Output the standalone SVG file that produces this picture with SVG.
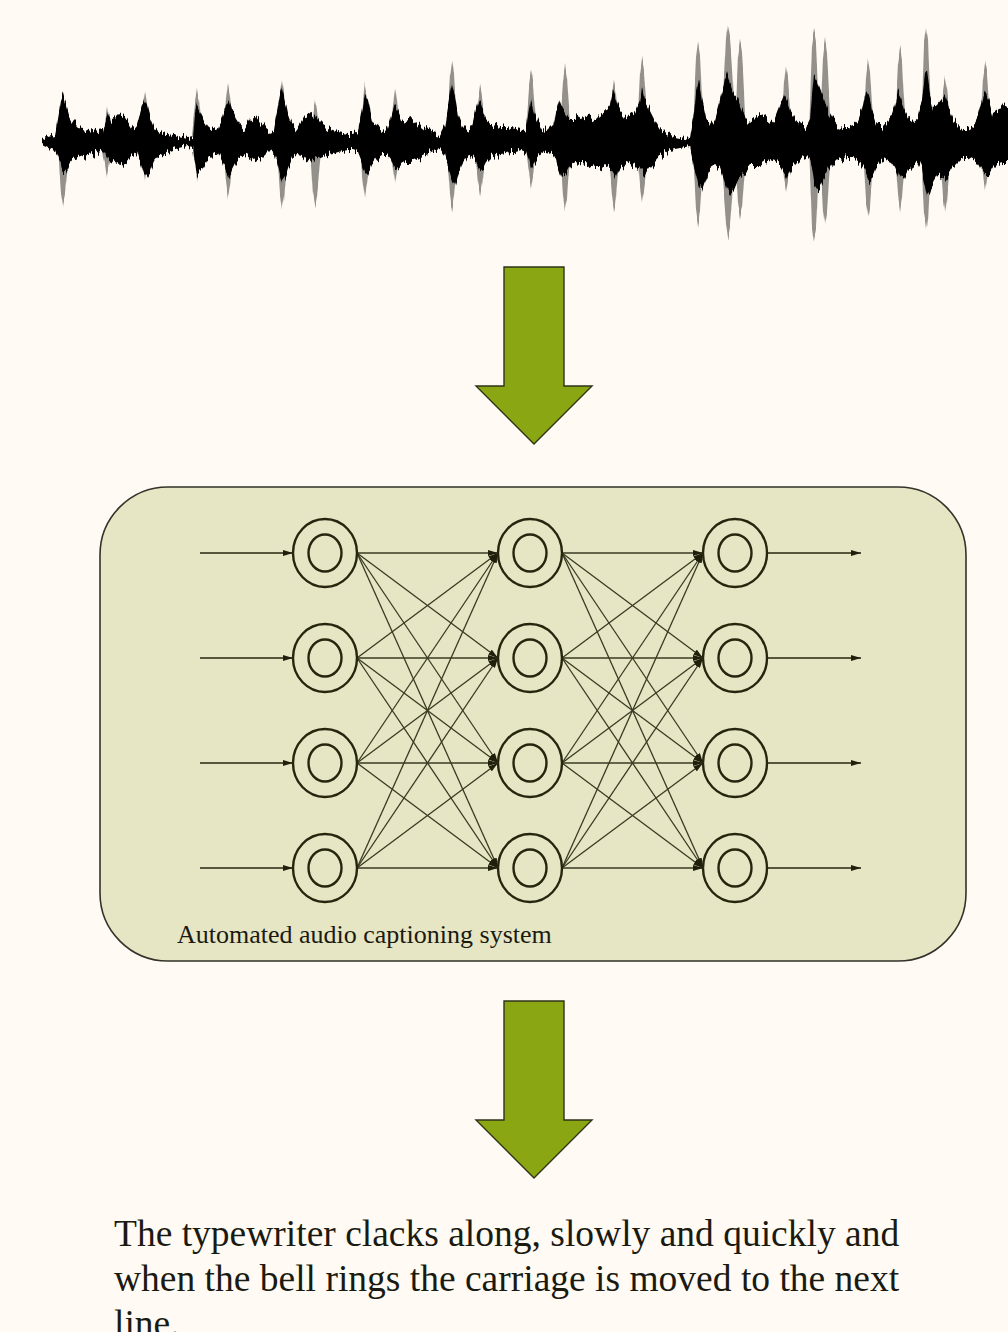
<svg xmlns="http://www.w3.org/2000/svg" width="1008" height="1332" viewBox="0 0 1008 1332">
  <defs>
    <style>
      .bg { fill: #fffaf3; }
      .panel { fill: #e6e6c5; stroke: #33332a; stroke-width: 1.6; }
      .flow { fill: #8aa612; stroke: #2e3318; stroke-width: 1.4; stroke-linejoin: miter; }
      .ring { fill: none; stroke: #26260f; stroke-width: 2.4; }
      .link { stroke: #3a3a22; stroke-width: 1.3; fill: none; marker-end: url(#tip); }
      .io { stroke: #26260f; stroke-width: 1.5; fill: none; marker-end: url(#tip); }
      .label { font-family: "Liberation Serif", "Times New Roman", serif; fill: #1a1a10; }
      .wave { fill: #000; }
      .spike { fill: #000; opacity: 0.42; }
    </style>
    <marker id="tip" viewBox="0 0 10 6" refX="10" refY="3" markerWidth="10" markerHeight="6" markerUnits="userSpaceOnUse" orient="auto">
      <path d="M0,0 L10,3 L0,6 Z" fill="#1f1f0c"/>
    </marker>
    <!-- streaky vertical jitter for the waveform edges -->
    <filter id="soft" x="-2%" y="-30%" width="104%" height="160%">
      <feTurbulence type="fractalNoise" baseFrequency="0.45 0.02" numOctaves="2" seed="7" result="noise"/>
      <feColorMatrix in="noise" type="matrix" values="0 0 0 0 0.5  0 1 0 0 0  0 0 0 0 0  0 0 0 0 1" result="shift"/>
      <feDisplacementMap in="SourceGraphic" in2="shift" scale="16" xChannelSelector="R" yChannelSelector="G" result="jag"/>
      <feGaussianBlur in="jag" stdDeviation="0.7"/>
    </filter>
  </defs>

  <rect class="bg" x="0" y="0" width="1008" height="1332"/>

  <!-- audio waveform -->
  <g id="waveform" filter="url(#soft)">
    <g class="spike">
      <path d="M58,135L61,108L63,93L65,105L69,135Z M58,150L61,192L63,207L65,195L69,150Z"/>
      <path d="M102,135L105,120L107,105L109,117L113,135Z M102,150L105,163L107,178L109,166L113,150Z"/>
      <path d="M140,135L143,105L145,90L147,102L151,135Z M140,150L143,167L145,182L147,170L151,150Z"/>
      <path d="M192,135L195,103L197,88L199,100L203,135Z M192,150L195,165L197,180L199,168L203,150Z"/>
      <path d="M223,135L226,99L228,84L230,96L234,135Z M223,150L226,182L228,197L230,185L234,150Z"/>
      <path d="M277,135L280,95L282,80L284,92L288,135Z M277,150L280,195L282,210L284,198L288,150Z"/>
      <path d="M310,135L313,115L315,100L317,112L321,135Z M310,150L313,193L315,208L317,196L321,150Z"/>
      <path d="M360,135L363,100L365,85L367,97L371,135Z M360,150L363,182L365,197L367,185L371,150Z"/>
      <path d="M390,135L393,103L395,88L397,100L401,135Z M390,150L393,170L395,185L397,173L401,150Z"/>
      <path d="M447,135L450,77L452,62L454,74L458,135Z M447,150L450,195L452,210L454,198L458,150Z"/>
      <path d="M475,135L478,100L480,85L482,97L486,135Z M475,150L478,181L480,196L482,184L486,150Z"/>
      <path d="M526,135L529,87L531,72L533,84L537,135Z M526,150L529,172L531,187L533,175L537,150Z"/>
      <path d="M560,135L563,80L565,65L567,77L571,135Z M560,150L563,195L565,210L567,198L571,150Z"/>
      <path d="M609,135L612,95L614,80L616,92L620,135Z M609,150L612,195L614,210L616,198L620,150Z"/>
      <path d="M637,135L640,72L642,57L644,69L648,135Z M637,150L640,188L642,203L644,191L648,150Z"/>
      <path d="M693,135L696,58L698,43L700,55L704,135Z M693,150L696,210L698,225L700,213L704,150Z"/>
      <path d="M721,135L726,38L728,23L730,35L736,135Z M721,150L726,223L728,238L730,226L736,150Z"/>
      <path d="M735,135L738,55L740,40L742,52L746,135Z M735,150L738,205L740,220L742,208L746,150Z"/>
      <path d="M781,135L784,82L786,67L788,79L792,135Z M781,150L784,177L786,192L788,180L792,150Z"/>
      <path d="M809,135L812,45L814,30L816,42L820,135Z M809,150L812,225L814,240L816,228L820,150Z"/>
      <path d="M820,135L823,55L825,40L827,52L831,135Z M820,150L823,210L825,225L827,213L831,150Z"/>
      <path d="M863,135L866,75L868,60L870,72L874,135Z M863,150L866,203L868,218L870,206L874,150Z"/>
      <path d="M895,135L898,62L900,47L902,59L906,135Z M895,150L898,195L900,210L902,198L906,150Z"/>
      <path d="M921,135L924,43L926,28L928,40L932,135Z M921,150L924,215L926,230L928,218L932,150Z"/>
      <path d="M940,135L943,90L945,75L947,87L951,135Z M940,150L943,198L945,213L947,201L951,150Z"/>
      <path d="M980,135L983,77L985,62L987,74L991,135Z M980,150L983,175L985,190L987,178L991,150Z"/>
    </g>
    <polygon class="wave" points="42,140 48,137 55,135 58,118 61,100 63,95 66,104 69,115 73,122 78,127 83,128 88,130 93,129 98,131 103,130 106,118 108,110 111,120 115,117 119,113 123,115 128,122 133,130 137,125 141,110 144,100 147,103 150,115 154,125 158,130 163,132 168,134 173,135 178,136 183,137 188,138 193,137 195,115 197,105 200,112 204,120 208,126 213,130 218,128 222,118 226,105 229,100 232,110 236,118 240,124 245,128 250,120 255,116 260,122 265,128 270,132 274,130 277,112 280,95 282,88 285,100 288,115 292,126 297,130 302,122 306,115 310,112 314,115 318,120 323,125 328,128 333,130 338,132 343,133 348,134 353,134 358,130 362,110 365,95 368,100 372,118 377,127 382,130 387,128 391,115 394,103 397,108 401,118 406,120 411,118 416,122 421,126 426,130 431,132 436,134 440,135 445,125 449,100 452,85 455,95 458,115 462,125 467,130 472,128 476,110 479,100 482,108 486,118 491,124 496,126 501,127 506,128 511,129 516,130 521,131 526,128 529,110 531,100 534,112 538,122 542,130 547,131 553,125 556,110 559,100 562,108 566,115 570,118 575,118 580,116 585,115 590,118 595,120 600,115 605,112 610,105 613,90 616,98 620,112 625,118 630,115 635,112 640,100 642,88 645,100 650,110 655,120 660,128 665,132 670,135 675,136 680,137 685,138 690,139 693,120 696,95 699,80 702,100 706,118 710,125 715,118 720,100 724,85 727,75 730,85 734,95 738,100 742,110 746,118 750,122 755,118 760,115 765,118 770,122 775,118 780,105 784,95 787,100 791,112 796,120 801,126 806,128 810,120 812,95 814,75 817,80 820,88 824,100 828,112 833,120 838,126 843,128 848,128 853,126 858,122 862,110 866,90 869,95 872,110 876,122 881,126 886,125 891,118 895,105 898,92 901,98 904,110 908,118 913,122 918,118 922,100 925,75 927,72 930,95 933,108 937,105 941,100 945,95 949,108 953,118 958,124 963,128 968,128 973,125 978,115 982,100 985,92 989,100 993,115 998,112 1003,105 1010,108 1010,162 1003,162 998,163 993,168 989,175 985,175 982,170 978,162 973,160 968,158 963,158 958,163 953,168 949,175 945,180 941,178 937,175 933,182 930,192 927,195 925,185 922,170 918,162 913,165 908,170 904,178 901,180 898,175 895,168 891,162 886,160 881,162 876,168 872,178 869,180 866,172 862,165 858,160 853,157 848,157 843,158 838,160 833,165 828,172 824,180 820,188 817,190 814,185 812,170 810,160 806,156 801,158 796,163 791,170 787,178 784,172 780,165 775,162 770,160 765,162 760,165 755,165 750,165 746,170 742,175 738,180 734,190 730,195 727,190 724,180 720,168 715,165 710,168 706,178 702,190 699,185 696,175 693,160 690,146 685,147 680,148 675,149 670,150 665,153 660,156 655,162 650,168 645,175 642,172 640,170 635,165 630,163 625,166 620,170 616,178 613,172 610,168 605,165 600,168 595,168 590,166 585,165 580,163 575,162 570,168 566,175 562,178 559,170 556,160 553,155 547,151 542,153 538,158 534,165 531,168 529,160 526,152 521,150 516,152 511,152 506,153 501,154 496,155 491,157 486,162 482,170 479,168 476,160 472,155 467,157 462,165 458,175 455,185 452,180 449,170 445,155 440,149 436,150 431,152 426,154 421,157 416,160 411,162 406,162 401,165 397,170 394,168 391,160 387,155 382,155 377,158 372,165 368,175 365,172 362,162 358,152 353,150 348,150 343,151 338,152 333,154 328,155 323,156 318,158 314,160 310,162 306,160 302,155 297,154 292,158 288,168 285,178 282,182 280,175 277,162 274,152 270,150 265,155 260,160 255,162 250,158 245,155 240,158 236,162 232,170 229,178 226,172 222,160 218,152 213,155 208,160 204,168 200,172 197,175 195,165 193,147 188,146 183,147 178,148 173,150 168,152 163,155 158,157 154,162 150,172 147,178 144,175 141,165 137,152 133,155 128,160 123,163 119,166 115,164 111,162 108,160 106,155 103,150 98,152 93,154 88,155 83,156 78,158 73,160 69,165 66,172 63,170 61,165 58,158 55,150 48,148 42,145"/>
  </g>

  <!-- flow arrows -->
  <g id="arrow-in">
    <polygon class="flow" points="504,267 564,267 564,386 592,386 534,444 476,386 504,386"/>
  </g>

  <!-- captioning system panel -->
  <g id="system">
    <rect class="panel" x="100" y="487" width="866" height="474" rx="68" ry="68"/>
    <text class="label" x="177" y="943" font-size="26">Automated audio captioning system</text>
  </g>

  <!-- connectors between layers -->
  <g id="connectors">
    <!-- inputs -->
    <line class="io" x1="200" y1="553" x2="293" y2="553"/>
    <line class="io" x1="200" y1="658" x2="293" y2="658"/>
    <line class="io" x1="200" y1="763" x2="293" y2="763"/>
    <line class="io" x1="200" y1="868" x2="293" y2="868"/>
    <!-- layer 1 to layer 2 -->
    <line class="link" x1="357" y1="553" x2="498" y2="553"/>
    <line class="link" x1="357" y1="553" x2="498" y2="658"/>
    <line class="link" x1="357" y1="553" x2="498" y2="763"/>
    <line class="link" x1="357" y1="553" x2="498" y2="868"/>
    <line class="link" x1="357" y1="658" x2="498" y2="553"/>
    <line class="link" x1="357" y1="658" x2="498" y2="658"/>
    <line class="link" x1="357" y1="658" x2="498" y2="763"/>
    <line class="link" x1="357" y1="658" x2="498" y2="868"/>
    <line class="link" x1="357" y1="763" x2="498" y2="553"/>
    <line class="link" x1="357" y1="763" x2="498" y2="658"/>
    <line class="link" x1="357" y1="763" x2="498" y2="763"/>
    <line class="link" x1="357" y1="763" x2="498" y2="868"/>
    <line class="link" x1="357" y1="868" x2="498" y2="553"/>
    <line class="link" x1="357" y1="868" x2="498" y2="658"/>
    <line class="link" x1="357" y1="868" x2="498" y2="763"/>
    <line class="link" x1="357" y1="868" x2="498" y2="868"/>
    <!-- layer 2 to layer 3 -->
    <line class="link" x1="562" y1="553" x2="703" y2="553"/>
    <line class="link" x1="562" y1="553" x2="703" y2="658"/>
    <line class="link" x1="562" y1="553" x2="703" y2="763"/>
    <line class="link" x1="562" y1="553" x2="703" y2="868"/>
    <line class="link" x1="562" y1="658" x2="703" y2="553"/>
    <line class="link" x1="562" y1="658" x2="703" y2="658"/>
    <line class="link" x1="562" y1="658" x2="703" y2="763"/>
    <line class="link" x1="562" y1="658" x2="703" y2="868"/>
    <line class="link" x1="562" y1="763" x2="703" y2="553"/>
    <line class="link" x1="562" y1="763" x2="703" y2="658"/>
    <line class="link" x1="562" y1="763" x2="703" y2="763"/>
    <line class="link" x1="562" y1="763" x2="703" y2="868"/>
    <line class="link" x1="562" y1="868" x2="703" y2="553"/>
    <line class="link" x1="562" y1="868" x2="703" y2="658"/>
    <line class="link" x1="562" y1="868" x2="703" y2="763"/>
    <line class="link" x1="562" y1="868" x2="703" y2="868"/>
    <!-- outputs -->
    <line class="io" x1="767" y1="553" x2="861" y2="553"/>
    <line class="io" x1="767" y1="658" x2="861" y2="658"/>
    <line class="io" x1="767" y1="763" x2="861" y2="763"/>
    <line class="io" x1="767" y1="868" x2="861" y2="868"/>
  </g>

  <!-- neurons -->
  <g id="n11"><ellipse class="ring" cx="325" cy="553" rx="32" ry="34"/><ellipse class="ring" cx="325" cy="553" rx="16.5" ry="18.5"/></g>
  <g id="n12"><ellipse class="ring" cx="325" cy="658" rx="32" ry="34"/><ellipse class="ring" cx="325" cy="658" rx="16.5" ry="18.5"/></g>
  <g id="n13"><ellipse class="ring" cx="325" cy="763" rx="32" ry="34"/><ellipse class="ring" cx="325" cy="763" rx="16.5" ry="18.5"/></g>
  <g id="n14"><ellipse class="ring" cx="325" cy="868" rx="32" ry="34"/><ellipse class="ring" cx="325" cy="868" rx="16.5" ry="18.5"/></g>
  <g id="n21"><ellipse class="ring" cx="530" cy="553" rx="32" ry="34"/><ellipse class="ring" cx="530" cy="553" rx="16.5" ry="18.5"/></g>
  <g id="n22"><ellipse class="ring" cx="530" cy="658" rx="32" ry="34"/><ellipse class="ring" cx="530" cy="658" rx="16.5" ry="18.5"/></g>
  <g id="n23"><ellipse class="ring" cx="530" cy="763" rx="32" ry="34"/><ellipse class="ring" cx="530" cy="763" rx="16.5" ry="18.5"/></g>
  <g id="n24"><ellipse class="ring" cx="530" cy="868" rx="32" ry="34"/><ellipse class="ring" cx="530" cy="868" rx="16.5" ry="18.5"/></g>
  <g id="n31"><ellipse class="ring" cx="735" cy="553" rx="32" ry="34"/><ellipse class="ring" cx="735" cy="553" rx="16.5" ry="18.5"/></g>
  <g id="n32"><ellipse class="ring" cx="735" cy="658" rx="32" ry="34"/><ellipse class="ring" cx="735" cy="658" rx="16.5" ry="18.5"/></g>
  <g id="n33"><ellipse class="ring" cx="735" cy="763" rx="32" ry="34"/><ellipse class="ring" cx="735" cy="763" rx="16.5" ry="18.5"/></g>
  <g id="n34"><ellipse class="ring" cx="735" cy="868" rx="32" ry="34"/><ellipse class="ring" cx="735" cy="868" rx="16.5" ry="18.5"/></g>

  <g id="arrow-out">
    <polygon class="flow" points="504,1001 564,1001 564,1120 592,1120 534,1178 476,1120 504,1120"/>
  </g>

  <!-- generated caption -->
  <g id="caption">
    <text class="label" font-size="37.5" fill="#111">
      <tspan x="114" y="1246">The typewriter clacks along, slowly and quickly and</tspan>
      <tspan x="114" y="1291">when the bell rings the carriage is moved to the next</tspan>
      <tspan x="114" y="1336">line.</tspan>
    </text>
  </g>
</svg>
